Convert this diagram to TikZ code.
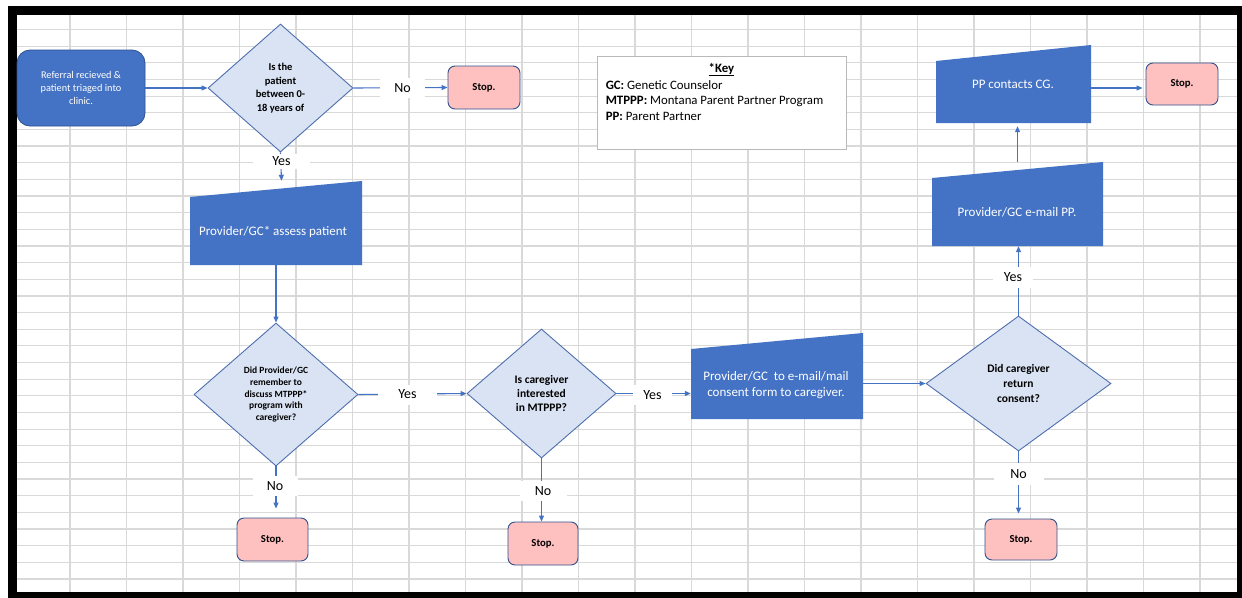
\documentclass[tikz,border=0pt]{standalone}
\usepackage{fontspec}
\setmainfont{Carlito}
\usetikzlibrary{arrows.meta,shapes.geometric}
\definecolor{flowblue}{HTML}{4472C4}
\definecolor{flowedge}{HTML}{2F528F}
\definecolor{decedge}{HTML}{4E6FAE}
\definecolor{decfill}{HTML}{DAE3F3}
\definecolor{stopfill}{HTML}{FFC0C0}
\definecolor{cellline}{HTML}{D9D9D9}
\tikzset{
  startbox/.style={rectangle,rounded corners=13,fill=flowblue,draw=flowedge,line width=0.8,
    minimum width=128,minimum height=76,text=white,align=center,font=\fontsize{10.3}{13}\selectfont},
  manin/.style={rectangle,inner sep=0,
    path picture={\fill[flowblue] (path picture bounding box.south west) -- (path picture bounding box.south east)
      -- (path picture bounding box.north east) -- ([yshift=-16pt]path picture bounding box.north west) -- cycle;}},
  boxtxt/.style={text=white,align=center,inner sep=0,font=\fontsize{13}{16}\selectfont},
  decision/.style={diamond,draw=decedge,fill=decfill,line width=0.9,inner sep=0,align=center},
  stopbox/.style={rectangle,rounded corners=7,fill=stopfill,draw=flowedge,line width=0.9,
    minimum width=72,minimum height=43,font=\bfseries\fontsize{10.7}{12}\selectfont},
  lbl/.style={fill=white,inner sep=0,minimum width=45,minimum height=20,font=\fontsize{14}{16}\selectfont},
  arr/.style={draw=flowblue,line width=1.1,-{Triangle[length=6pt,width=5pt]}},
}
\begin{document}
\begin{tikzpicture}[x=1pt,y=-1pt]
\useasboundingbox (0,0) rectangle (1242,597);
\clip (0,0) rectangle (1242,597);
\fill[white] (0,0) rectangle (1242,597);
% sheet cells
\foreach \i in {0,...,20} \draw[cellline,line width=1.2] ({70+56.5*\i},15) -- ({70+56.5*\i},592);
\foreach \j in {0,...,33} \draw[cellline,line width=1.2] (17,{29.5+16.65*\j}) -- (1237,{29.5+16.65*\j});
\draw[line width=9] (12.5,10.5) rectangle (1241.5,596.5);

% shapes
\node[startbox] (refer) at (81,88) {Referral recieved \&\\patient triaged into\\clinic.};
\node[decision,minimum width=145,minimum height=128,font=\bfseries\fontsize{10.5}{13.5}\selectfont]
  (agechk) at (280.5,88) {Is the\\patient\\between 0-\\18 years of};
\node[stopbox] (stop1) at (484,87.5) {Stop.};
\node[rectangle,draw=gray!55,fill=white,line width=0.8,minimum width=249,minimum height=93] (key) at (721.5,102.5) {};
\node[font=\bfseries\fontsize{12.8}{15.5}\selectfont] (keyhead) at ([shift={(0,14)}]key.north) {\underline{*Key}};
\node[anchor=west,align=left,inner sep=0,font=\fontsize{12.8}{15.5}\selectfont] (keylist) at ([shift={(9,-2)}]key.west)
  {\textbf{GC:} Genetic Counselor\\\textbf{MTPPP:} Montana Parent Partner Program\\\textbf{PP:} Parent Partner};
\node[manin,minimum width=172,minimum height=84] (assess) at (276,223) {};
\node[decision,minimum width=164,minimum height=143,font=\bfseries\fontsize{9.5}{11.8}\selectfont]
  (discuss) at (276,394.5) {Did Provider/GC\\remember to\\discuss MTPPP*\\program with\\caregiver?};
\node[decision,minimum width=149,minimum height=129,font=\bfseries\fontsize{11.5}{14}\selectfont]
  (interest) at (541.5,393.5) {Is caregiver\\interested\\in MTPPP?};
\node[stopbox,minimum width=71] (stop2) at (272.5,539.5) {Stop.};
\node[stopbox,minimum width=70] (stop3) at (543,543.5) {Stop.};
\node[manin,minimum width=172,minimum height=86] (consent) at (777,376) {};
\node[decision,minimum width=185,minimum height=135,font=\bfseries\fontsize{11.5}{15}\selectfont]
  (retchk) at (1018.5,383.5) {Did caregiver\\return\\consent?};
\node[stopbox,minimum height=41] (stop4) at (1021,539.5) {Stop.};
\node[manin,minimum width=171,minimum height=84] (email) at (1017.5,204) {};
\node[manin,minimum width=155,minimum height=78] (ppc) at (1013.5,84) {};
\node[stopbox,minimum height=42] (stop5) at (1182,84) {Stop.};

% connectors
\draw[arr] (refer.east) -- (agechk.west);
\draw[arr] (agechk.east) -- (stop1.west);
\draw[arr] (agechk.south) -- ([xshift=1]agechk.south |- assess.north);
\draw[arr] (assess.south) -- (discuss.north);
\draw[arr] (discuss.east) -- (interest.west);
\draw[arr,shorten >=9] (discuss.south) -- (discuss.south |- stop2.north);
\draw[arr] (interest.south) -- (interest.south |- stop3.north);
\draw[arr] (interest.east) -- (interest.east -| consent.west);
\draw[arr] (consent.east |- retchk.west) -- (retchk.west);
\draw[arr,shorten >=5] (retchk.south) -- (retchk.south |- stop4.north);
\draw[arr] (retchk.north) -- (retchk.north |- email.south);
\draw[arr,shorten >=3] (email.north) -- (email.north |- ppc.south);
\draw[arr,shorten >=3] ([yshift=-4]ppc.east) -- ([yshift=-4]ppc.east -| stop5.west);

% branch labels
\node[lbl] (no1) at (402.5,88) {No};
\node[lbl,minimum width=57,minimum height=15] (yes1) at (281.5,161) {Yes};
\node[lbl,minimum width=59] (yes2) at (407.5,394.5) {Yes};
\node[lbl] (no2) at (275,486) {No};
\node[lbl,minimum width=47] (no3) at (543,491) {No};
\node[lbl,minimum width=39] (yes3) at (652.5,395) {Yes};
\node[lbl,minimum width=50,minimum height=22] (no4) at (1018.5,474) {No};
\node[lbl,minimum width=40,minimum height=21] (yes4) at (1013,277.5) {Yes};

% box texts
\node[boxtxt] (assess-t) at (273,232) {Provider/GC* assess patient};
\node[boxtxt] (consent-t) at (776,385) {Provider/GC\ \ to e-mail/mail\\consent form to caregiver.};
\node[boxtxt] (email-t) at (1017,212) {Provider/GC e-mail PP.};
\node[boxtxt] (ppc-t) at (1013,84) {PP contacts CG.};
\end{tikzpicture}
\end{document}
